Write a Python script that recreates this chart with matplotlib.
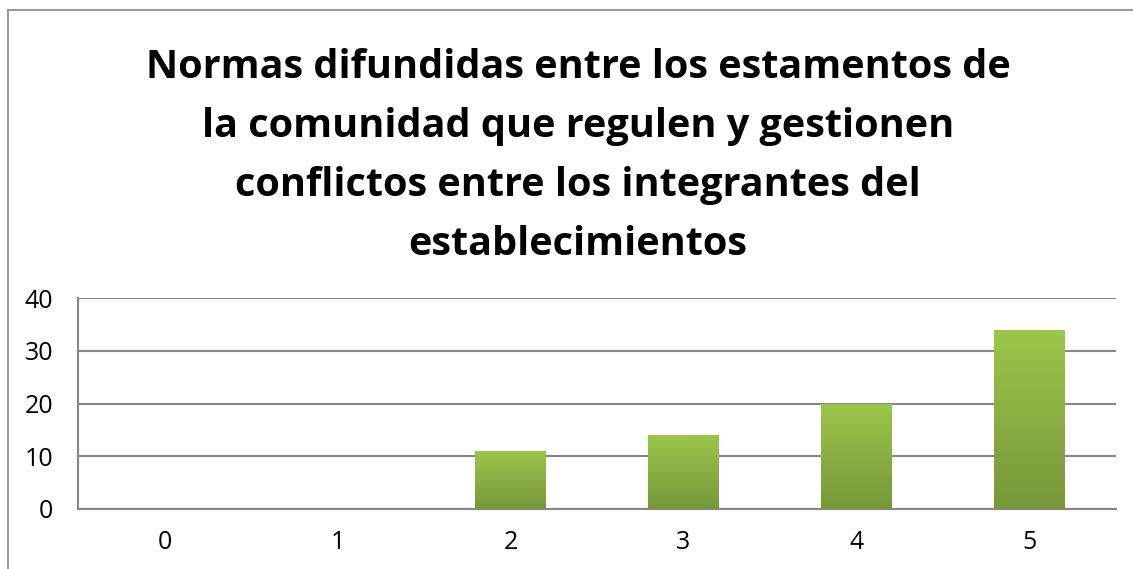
import matplotlib
matplotlib.use("Agg")
import matplotlib.pyplot as plt
import numpy as np
from matplotlib.patches import Rectangle
from matplotlib.colors import LinearSegmentedColormap

categories = ["0", "1", "2", "3", "4", "5"]
values = [0, 0, 11, 14, 20, 34]
yticks = [0, 10, 20, 30, 40]
title = ("Normas difundidas entre los estamentos de\n"
         "la comunidad que regulen y gestionen\n"
         "conflictos entre los integrantes del\n"
         "establecimientos")

plt.rcParams['font.family'] = ['Open Sans', 'DejaVu Sans']

fig = plt.figure(figsize=(11.33, 5.69), dpi=100)
fig.patch.set_facecolor('white')

# outer chart border
fig.patches.append(Rectangle((8/1133, -0.2), 2.0, 0.2 + 1 - 10/569,
                             transform=fig.transFigure, fill=False,
                             edgecolor='#9a9a9a', linewidth=1.5, zorder=0))

ax = fig.add_axes([78/1133, 60/569, 1038/1133, 211/569])
x = np.arange(len(categories))
bars = ax.bar(x, values, width=0.405, color='#8cb043', zorder=3)

cmap = LinearSegmentedColormap.from_list('g', ['#77973a', '#9cc64b'])
grad = np.linspace(0, 1, 256).reshape(-1, 1)
for b in bars:
    h = b.get_height()
    if h <= 0:
        continue
    x0 = b.get_x(); w = b.get_width()
    im = ax.imshow(grad, cmap=cmap, origin='lower', aspect='auto',
                   extent=[x0, x0 + w, 0, h], zorder=4)
    im.set_clip_path(b)

ax.set_xlim(-0.5, len(categories) - 0.5)
ax.set_ylim(0, 40)
ax.set_yticks(yticks)
ax.set_xticks(x)
ax.set_xticklabels(categories)
ax.yaxis.grid(True, color='#868686', linewidth=1.5, zorder=1)
ax.set_axisbelow(True)
for s in ['top', 'right']:
    ax.spines[s].set_visible(False)
for s in ['left', 'bottom']:
    ax.spines[s].set_color('#868686')
    ax.spines[s].set_linewidth(1.5)
ax.tick_params(axis='both', length=0, labelsize=18, colors='black')
ax.tick_params(axis='y', pad=18)
ax.tick_params(axis='x', pad=15)

fig.text(578/1133, 1 - 156/569, title, ha='center', va='center',
         fontsize=28.5, fontweight='bold', linespacing=1.67)

fig.savefig('out.png', dpi=100)
